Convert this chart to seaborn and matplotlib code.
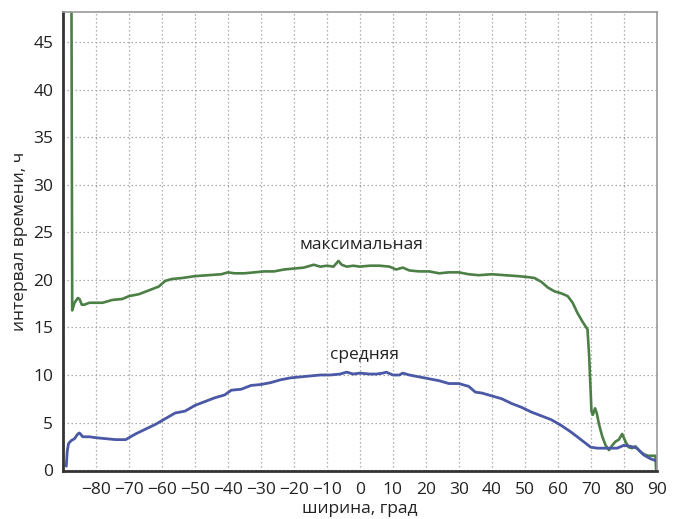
import numpy as np
import pandas as pd
import matplotlib
matplotlib.use("Agg")
import matplotlib.pyplot as plt
import seaborn as sns

lat_max = [-87.5, -87.2, -86.5, -85.5, -85.0, -84.3, -83.5, -82, -80, -78, -75, -72, -70, -67, -64, -61,
           -59, -57, -54, -50, -46, -42, -40, -38, -35, -32, -29, -26, -23, -20, -17, -14, -12, -10, -8,
           -6.5, -5.5, -4, -2, 0, 3, 6, 9, 11, 13, 15, 18, 21, 24, 27, 30, 33, 36, 40, 44, 48, 51, 53, 55,
           57, 59, 61, 63, 64.5, 66, 67.5, 69.0, 69.5, 70.2, 70.6, 71.3, 71.8, 72.5, 73.5, 74.5, 75.5, 76.5,
           77.5, 78.5, 79.5, 80.5, 81.5, 82.5, 83.5, 84.5, 85.5, 86.5, 87.5, 88.5, 89.6, 89.8]
val_max = [60, 16.8, 17.6, 18.1, 18.0, 17.4, 17.4, 17.6, 17.6, 17.6, 17.9, 18.0, 18.3, 18.5, 18.9, 19.3,
           19.9, 20.1, 20.2, 20.4, 20.5, 20.6, 20.8, 20.7, 20.7, 20.8, 20.9, 20.9, 21.1, 21.2, 21.3, 21.6,
           21.4, 21.5, 21.4, 22.0, 21.6, 21.4, 21.5, 21.4, 21.5, 21.5, 21.4, 21.1, 21.3, 21.0, 20.9, 20.9,
           20.7, 20.8, 20.8, 20.6, 20.5, 20.6, 20.5, 20.4, 20.3, 20.2, 19.8, 19.2, 18.8, 18.6, 18.3, 17.6,
           16.5, 15.6, 14.8, 12.0, 6.2, 5.8, 6.5, 6.0, 4.8, 3.5, 2.6, 2.1, 2.6, 3.0, 3.2, 3.8, 3.0, 2.4,
           2.3, 2.5, 2.1, 1.8, 1.6, 1.5, 1.5, 1.5, 0.0]

lat_mean = [-89.0, -88.7, -88.3, -87.5, -86.5, -85.5, -85.0, -84.0, -82, -80, -77, -74, -71, -70, -68, -65,
            -62, -60, -58, -56, -53, -50, -47, -44, -41, -39, -36, -33, -30, -27, -24, -21, -18, -15, -12,
            -9, -6, -4, -2, 0, 3, 5, 7, 8, 10, 12, 13, 15, 18, 21, 24, 27, 30, 33, 35, 37, 40, 43, 46, 49,
            52, 55, 58, 61, 64, 67, 70, 72, 75, 78, 80, 82, 84, 86, 88, 89.6]
val_mean = [0.4, 2.0, 2.8, 3.1, 3.3, 3.8, 3.9, 3.5, 3.5, 3.4, 3.3, 3.2, 3.2, 3.4, 3.8, 4.3,
            4.8, 5.2, 5.6, 6.0, 6.2, 6.8, 7.2, 7.6, 7.9, 8.4, 8.5, 8.9, 9.0, 9.2, 9.5, 9.7, 9.8, 9.9, 10.0,
            10.0, 10.1, 10.3, 10.1, 10.2, 10.1, 10.1, 10.2, 10.3, 10.0, 10.0, 10.2, 10.0, 9.8, 9.6, 9.4, 9.1,
            9.1, 8.8, 8.2, 8.1, 7.8, 7.5, 7.0, 6.6, 6.1, 5.7, 5.3, 4.7, 4.0, 3.2, 2.4, 2.3, 2.3, 2.3, 2.6,
            2.5, 2.3, 1.6, 1.2, 1.0]

x_ticks = list(range(-80, 91, 10))
y_ticks = list(range(0, 46, 5))
label_max = "максимальная"
label_mean = "средняя"
xlabel = "ширина, град"
ylabel = "интервал времени, ч"

sns.set_style("white")
plt.rcParams['font.family'] = ['Open Sans', 'DejaVu Sans']

fig = plt.figure(figsize=(6.75, 5.19), dpi=100)
ax = fig.add_axes([0.0933, 0.0925, 0.8797, 0.8845])

df_max = pd.DataFrame({"lat": lat_max, "val": val_max})
df_mean = pd.DataFrame({"lat": lat_mean, "val": val_mean})
sns.lineplot(data=df_max, x="lat", y="val", ax=ax, color="#4b7f46", lw=1.9, sort=False)
sns.lineplot(data=df_mean, x="lat", y="val", ax=ax, color="#4a58a6", lw=2.0, sort=False)

ax.set_xlim(-90, 90)
ax.set_ylim(-0.1, 48.2)
ax.set_xticks(x_ticks)
ax.set_yticks(y_ticks)
ax.set_xticklabels([f"\u2212{abs(t)}" if t < 0 else str(t) for t in x_ticks])
ax.tick_params(axis='x', length=0, labelsize=12.5, colors="#222222", pad=8)
ax.tick_params(axis='y', length=0, labelsize=12.5, colors="#222222", pad=7)
ax.grid(True, linestyle=(0, (1.2, 2.0)), color="#a8a8a8", lw=0.9)
ax.set_axisbelow(True)

for side in ["left", "bottom"]:
    ax.spines[side].set_color("#333333")
    ax.spines[side].set_linewidth(2.0)
for side in ["top", "right"]:
    ax.spines[side].set_color("#999999")
    ax.spines[side].set_linewidth(1.2)

ax.set_xlabel(xlabel, fontsize=12.5, color="#222222", labelpad=2)
ax.set_ylabel(ylabel, fontsize=12.5, color="#222222", labelpad=4)

ax.text(0.5, 23.7, label_max, ha="center", va="center", fontsize=12.5, color="#222222")
ax.text(1.3, 12.1, label_mean, ha="center", va="center", fontsize=12.5, color="#222222")

fig.savefig("out.png", dpi=100)
